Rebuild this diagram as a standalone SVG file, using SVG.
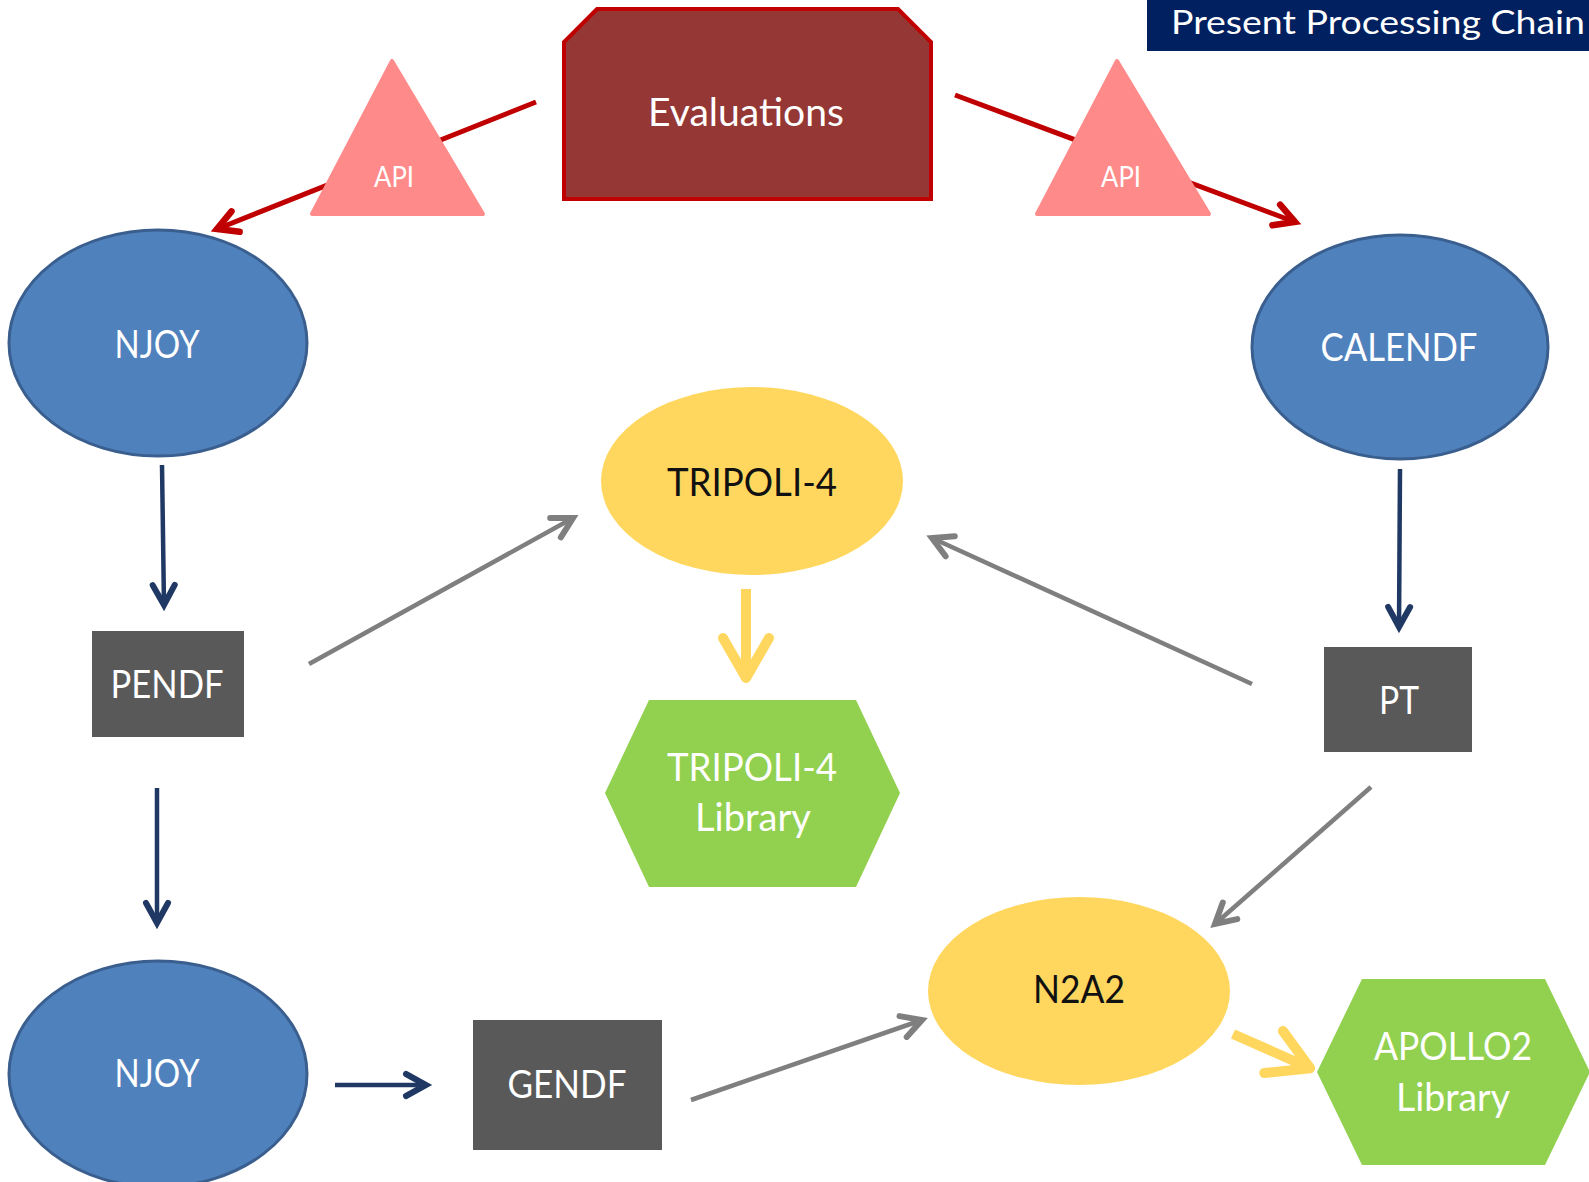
<svg xmlns="http://www.w3.org/2000/svg" width="1589" height="1182" viewBox="0 0 1589 1182">
<defs>
<style>
.lbl{font-family:Lato,"Open Sans","Liberation Sans",sans-serif;font-size:38px;fill:#FFFFFF;text-anchor:middle}
.dark{fill:#111111}
.api{font-family:Lato,"Open Sans","Liberation Sans",sans-serif;font-size:28px;fill:#FFFFFF;text-anchor:middle}
.blue{fill:#4F81BD;stroke:#3A5F8E;stroke-width:3}
.gbox{fill:#595959}
.yel{fill:#FFD75E}
.hex{fill:#92D050}
.tri{fill:#FF8A8A;stroke:#FF8A8A;stroke-width:4;stroke-linejoin:round}
.navy{stroke:#1F3864;stroke-width:4.5;fill:none}
.gray{stroke:#7F7F7F;stroke-width:4.5;fill:none}
.red{stroke:#C00000;stroke-width:5;fill:none}
.yarr{stroke:#FFD75E;stroke-width:10;fill:none}
</style>
<marker id="mNavy" markerUnits="userSpaceOnUse" orient="auto" overflow="visible" refX="0" refY="0" markerWidth="30" markerHeight="30">
<path d="M-20,-11 L0,0 L-20,11" fill="none" stroke="#1F3864" stroke-width="6" stroke-linecap="round"/>
</marker>
<marker id="mGray" markerUnits="userSpaceOnUse" orient="auto" overflow="visible" refX="0" refY="0" markerWidth="30" markerHeight="30">
<path d="M-20,-11 L0,0 L-20,11" fill="none" stroke="#7F7F7F" stroke-width="6" stroke-linecap="round"/>
</marker>
<marker id="mRed" markerUnits="userSpaceOnUse" orient="auto" overflow="visible" refX="0" refY="0" markerWidth="30" markerHeight="30">
<path d="M-20,-11 L0,0 L-20,11" fill="none" stroke="#C00000" stroke-width="6.5" stroke-linecap="round"/>
</marker>
<marker id="mYel" markerUnits="userSpaceOnUse" orient="auto" overflow="visible" refX="0" refY="0" markerWidth="60" markerHeight="60">
<path d="M-42,-23 L-2,0 L-42,23" fill="none" stroke="#FFD75E" stroke-width="10" stroke-linecap="round" stroke-linejoin="round"/>
</marker>
</defs>
<rect width="1589" height="1182" fill="#FFFFFF"/>

<g id="connectors">
<line class="red" x1="536" y1="102" x2="217" y2="229" marker-end="url(#mRed)"/>
<line class="red" x1="955" y1="95" x2="1295" y2="222" marker-end="url(#mRed)"/>
<line class="navy" x1="162" y1="465" x2="164" y2="605" marker-end="url(#mNavy)"/>
<line class="navy" x1="1400" y1="469" x2="1399" y2="627" marker-end="url(#mNavy)"/>
<line class="navy" x1="157" y1="788" x2="157" y2="923" marker-end="url(#mNavy)"/>
<line class="navy" x1="335" y1="1085" x2="426" y2="1085" marker-end="url(#mNavy)"/>
<line class="gray" x1="309" y1="664" x2="573" y2="518" marker-end="url(#mGray)"/>
<line class="gray" x1="1252" y1="684" x2="932" y2="538" marker-end="url(#mGray)"/>
<line class="gray" x1="1371" y1="787" x2="1215" y2="924" marker-end="url(#mGray)"/>
<line class="gray" x1="691" y1="1100" x2="922" y2="1020" marker-end="url(#mGray)"/>
<line class="yarr" x1="746" y1="589" x2="746" y2="680" marker-end="url(#mYel)"/>
<line class="yarr" x1="1233" y1="1034" x2="1312" y2="1069" marker-end="url(#mYel)"/>
</g>

<g id="title">
<rect x="1147" y="-5" width="450" height="56" fill="#002060"/>
<text x="1171" y="34" font-family="Lato,'Open Sans','Liberation Sans',sans-serif" font-size="33" fill="#FFFFFF" textLength="414" lengthAdjust="spacingAndGlyphs">Present Processing Chain</text>
</g>

<g id="evaluations">
<polygon points="597,9 898,9 931,42 931,199 564,199 564,42" fill="#953735" stroke="#C00000" stroke-width="4"/>
<text class="lbl" x="746" y="126" textLength="196" lengthAdjust="spacingAndGlyphs">Evaluations</text>
</g>

<g id="api-left">
<polygon class="tri" points="392,61 483,214 312,214"/>
<text class="api" x="394" y="187" textLength="40" lengthAdjust="spacingAndGlyphs">API</text>
</g>

<g id="api-right">
<polygon class="tri" points="1117,61 1209,214 1037,214"/>
<text class="api" x="1121" y="187" textLength="40" lengthAdjust="spacingAndGlyphs">API</text>
</g>

<g id="njoy-top">
<ellipse class="blue" cx="158" cy="343" rx="149" ry="113"/>
<text class="lbl" x="157" y="358" textLength="85" lengthAdjust="spacingAndGlyphs">NJOY</text>
</g>

<g id="calendf">
<ellipse class="blue" cx="1400" cy="347" rx="148" ry="112"/>
<text class="lbl" x="1399" y="361" textLength="157" lengthAdjust="spacingAndGlyphs">CALENDF</text>
</g>

<g id="tripoli4">
<ellipse class="yel" cx="752" cy="481" rx="151" ry="94"/>
<text class="lbl dark" x="752" y="496" textLength="170" lengthAdjust="spacingAndGlyphs">TRIPOLI-4</text>
</g>

<g id="pendf">
<rect class="gbox" x="92" y="631" width="152" height="106"/>
<text class="lbl" x="167" y="698" textLength="113" lengthAdjust="spacingAndGlyphs">PENDF</text>
</g>

<g id="pt">
<rect class="gbox" x="1324" y="647" width="148" height="105"/>
<text class="lbl" x="1399" y="714" textLength="40" lengthAdjust="spacingAndGlyphs">PT</text>
</g>

<g id="tripoli4-library">
<polygon class="hex" points="649,700 856,700 900,793 856,887 649,887 605,793"/>
<text class="lbl" x="752" y="781" textLength="170" lengthAdjust="spacingAndGlyphs">TRIPOLI-4</text>
<text class="lbl" x="753" y="831" textLength="116" lengthAdjust="spacingAndGlyphs">Library</text>
</g>

<g id="n2a2">
<ellipse class="yel" cx="1079" cy="991" rx="151" ry="94"/>
<text class="lbl dark" x="1079" y="1003" textLength="92" lengthAdjust="spacingAndGlyphs">N2A2</text>
</g>

<g id="njoy-bottom">
<ellipse class="blue" cx="158" cy="1074" rx="149" ry="113"/>
<text class="lbl" x="157" y="1087" textLength="85" lengthAdjust="spacingAndGlyphs">NJOY</text>
</g>

<g id="gendf">
<rect class="gbox" x="473" y="1020" width="189" height="130"/>
<text class="lbl" x="567" y="1098" textLength="119" lengthAdjust="spacingAndGlyphs">GENDF</text>
</g>

<g id="apollo2-library">
<polygon class="hex" points="1362,979 1545,979 1590,1072 1545,1165 1362,1165 1317,1072"/>
<text class="lbl" x="1453" y="1060" textLength="158" lengthAdjust="spacingAndGlyphs">APOLLO2</text>
<text class="lbl" x="1453" y="1111" textLength="114" lengthAdjust="spacingAndGlyphs">Library</text>
</g>
</svg>
